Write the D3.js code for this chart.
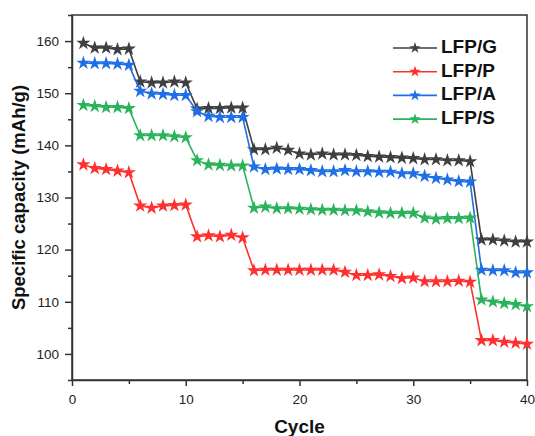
<!DOCTYPE html>
<html>
<head>
<meta charset="utf-8">
<script src="https://cdn.jsdelivr.net/npm/d3@7"></script>
<style>
  html, body { margin: 0; padding: 0; background: #fff; }
  svg { display: block; font-family: Arial, "Liberation Sans", sans-serif; }
</style>
</head>
<body>
<svg id="chart" width="535" height="436"></svg>
<script>
// Rate capability: specific capacity per cycle for four cathodes
const cycles = d3.range(1, 41);
const seriesNames = ["LFP/G", "LFP/P", "LFP/A", "LFP/S"];
const seriesColors = ["#3f3f3f", "#ff3030", "#1f6fe6", "#2bb35c"];

const lfpG = [159.6,158.7,158.7,158.4,158.5, 152.2,152.0,152.0,152.2,152.0,
              147.0,147.1,147.1,147.2,147.2, 139.2,139.2,139.5,139.1,138.4,
              138.2,138.4,138.2,138.2,138.1, 137.9,137.8,137.7,137.6,137.5,
              137.3,137.3,137.1,137.1,136.9, 121.9,121.9,121.7,121.5,121.5];
const lfpP = [136.3,135.6,135.4,135.1,134.8, 128.4,128.0,128.4,128.5,128.6,
              122.5,122.7,122.5,122.8,122.3, 116.0,116.1,116.1,116.1,116.1,
              116.1,116.1,116.1,115.7,115.1, 115.1,115.2,114.9,114.5,114.6,
              113.9,113.9,113.9,114.0,113.8, 102.6,102.6,102.3,102.1,101.9];
const lfpA = [155.8,155.7,155.7,155.6,155.4, 150.4,149.9,149.8,149.6,149.6,
              146.5,145.6,145.4,145.4,145.4, 135.9,135.4,135.5,135.4,135.4,
              135.2,135.0,135.0,135.2,135.0, 135.0,134.9,134.9,134.6,134.6,
              134.1,133.7,133.4,133.1,133.0, 116.1,116.0,116.0,115.6,115.6];
const lfpS = [147.7,147.5,147.3,147.3,147.1, 141.9,141.9,141.9,141.7,141.5,
              137.1,136.3,136.2,136.1,136.1, 128.0,128.2,127.9,127.9,127.8,
              127.7,127.6,127.6,127.5,127.5, 127.3,127.1,127.0,127.0,127.0,
              126.1,125.9,126.0,126.0,126.1, 110.4,110.0,109.7,109.5,109.1];
const seriesValues = [lfpG, lfpP, lfpA, lfpS];

const xTicks = [0, 10, 20, 30, 40];
const xMinor = [5, 15, 25, 35];
const yTicks = [100, 110, 120, 130, 140, 150, 160];
const yMinor = [95, 105, 115, 125, 135, 145, 155, 165];

const svg = d3.select("#chart");
const W = 535, H = 436;
const m = { left: 72, right: 8, top: 15, bottom: 56 };
const iw = W - m.left - m.right, ih = H - m.top - m.bottom;

const x = d3.scaleLinear().domain([0, 40]).range([m.left, m.left + iw]);
const y = d3.scaleLinear().domain([95, 165]).range([m.top + ih, m.top]);

const axisColor = "#333";

// frame: top and right borders
svg.append("rect")
  .attr("x", m.left).attr("y", m.top).attr("width", iw).attr("height", ih)
  .attr("fill", "none").attr("stroke", axisColor).attr("stroke-width", 1.5);

// minor ticks
svg.append("g").attr("transform", `translate(0,${m.top + ih})`)
  .call(d3.axisBottom(x).tickValues(xMinor).tickSize(4).tickFormat(""))
  .call(g => g.select(".domain").remove())
  .call(g => g.selectAll("line").attr("stroke", axisColor).attr("stroke-width", 1.5));
svg.append("g").attr("transform", `translate(${m.left},0)`)
  .call(d3.axisLeft(y).tickValues(yMinor).tickSize(4).tickFormat(""))
  .call(g => g.select(".domain").remove())
  .call(g => g.selectAll("line").attr("stroke", axisColor).attr("stroke-width", 1.5));

// major axes
const xAxis = svg.append("g").attr("transform", `translate(0,${m.top + ih})`)
  .call(d3.axisBottom(x).tickValues(xTicks).tickSize(6).tickPadding(8).tickSizeOuter(0));
const yAxis = svg.append("g").attr("transform", `translate(${m.left},0)`)
  .call(d3.axisLeft(y).tickValues(yTicks).tickSize(7).tickPadding(6).tickSizeOuter(0));
[xAxis, yAxis].forEach(g => {
  g.select(".domain").attr("stroke", axisColor).attr("stroke-width", 1.5);
  g.selectAll("line").attr("stroke", axisColor).attr("stroke-width", 1.5);
  g.selectAll("text").attr("fill", "#222").style("font-size", "13.5px")
    .style("font-family", "Arial, 'Liberation Sans', sans-serif");
});

// axis titles
svg.append("text")
  .attr("x", x(20)).attr("y", 428)
  .attr("text-anchor", "middle").attr("dominant-baseline", "middle")
  .style("font-size", "19px").style("font-weight", "bold").attr("fill", "#111")
  .text("Cycle");
svg.append("text")
  .attr("transform", `translate(20,${m.top + ih / 2}) rotate(-90)`)
  .attr("text-anchor", "middle").attr("dominant-baseline", "middle")
  .style("font-size", "18.5px").style("font-weight", "bold").attr("fill", "#111")
  .text("Specific capacity (mAh/g)");

// series lines and star markers
const line = d3.line().x((d, i) => x(cycles[i])).y(d => y(d));
const star = d3.symbol().type(d3.symbolStar).size(62);

seriesValues.forEach((vals, si) => {
  const g = svg.append("g");
  g.append("path").datum(vals)
    .attr("d", line).attr("fill", "none")
    .attr("stroke", seriesColors[si]).attr("stroke-width", 1.6);
  g.selectAll("path.star").data(vals).join("path")
    .attr("class", "star")
    .attr("transform", (d, i) => `translate(${x(cycles[i])},${y(d)})`)
    .attr("d", star)
    .attr("fill", seriesColors[si]);
});

// legend
const legend = svg.append("g");
seriesNames.forEach((name, i) => {
  const ly = 48 + i * 23.7;
  legend.append("line")
    .attr("x1", 393).attr("x2", 437).attr("y1", ly).attr("y2", ly)
    .attr("stroke", seriesColors[i]).attr("stroke-width", 1.6);
  legend.append("path")
    .attr("transform", `translate(415,${ly})`)
    .attr("d", d3.symbol().type(d3.symbolStar).size(40))
    .attr("fill", seriesColors[i]);
  legend.append("text")
    .attr("x", 441).attr("y", ly).attr("dominant-baseline", "middle")
    .style("font-size", "19px").style("font-weight", "bold").attr("fill", "#111")
    .text(name);
});
</script>
</body>
</html>
